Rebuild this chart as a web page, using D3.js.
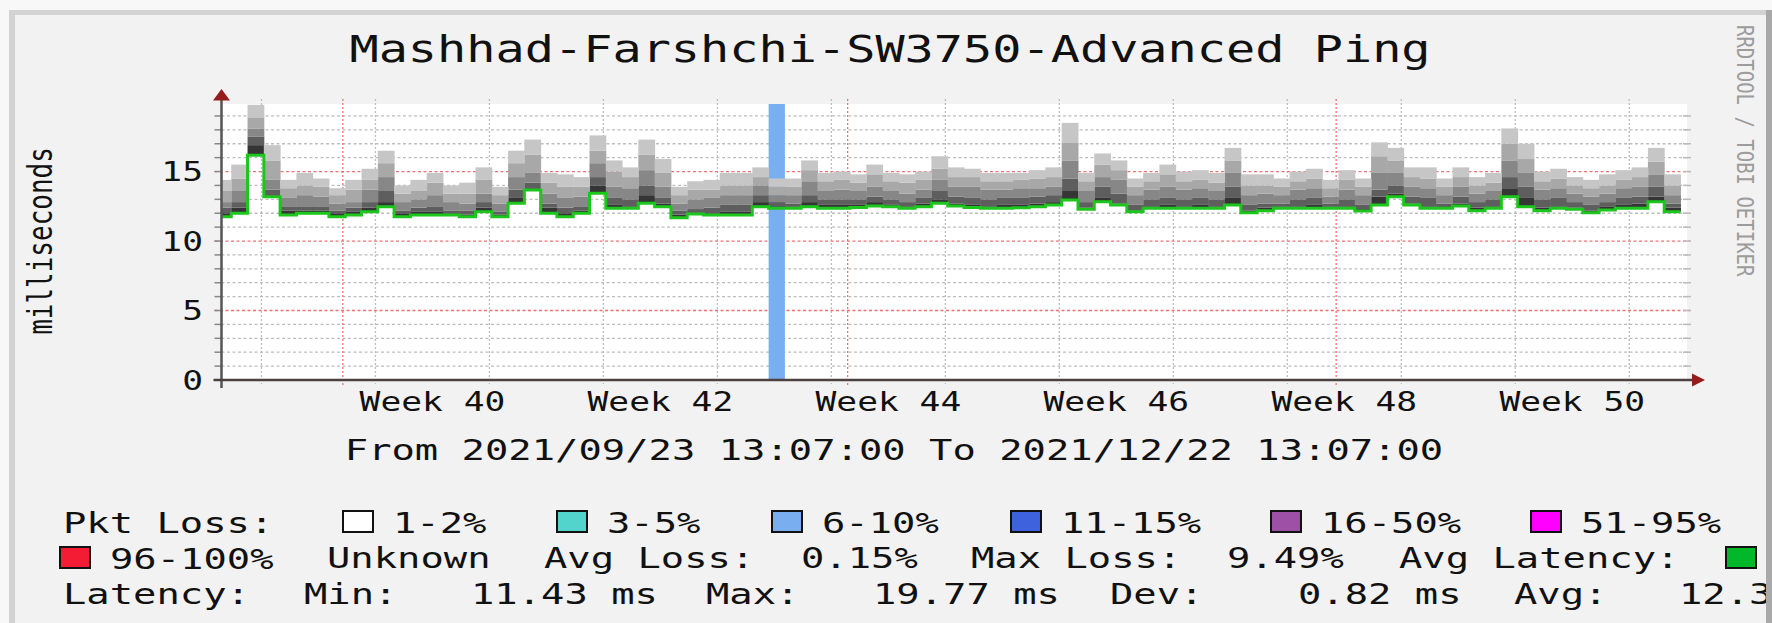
<!DOCTYPE html>
<html>
<head>
    <script src="https://cdnjs.cloudflare.com/ajax/libs/d3/7.8.5/d3.min.js"></script>
    <style>
        body, html {
            margin: 0;
            padding: 0;
            width: 100%;
            height: 100%;
            overflow: hidden;
            background: #f7f7f7;
        }
        svg {
            display: block;
        }
        text {
            font-family: "DejaVu Sans Mono", monospace;
            white-space: pre;
            fill: #111;
        }
    </style>
</head>
<body>
    <svg></svg>
    <script>
        // daily samples (ms), one per column; times are local wall clock kept as UTC
        const median = [
            11.75, 11.99, 16.18, 13.19, 11.87, 11.99, 11.99, 11.75, 11.87, 12.11,
            12.47, 11.75, 11.87, 11.87, 11.87, 11.75, 12.11, 11.75, 12.71, 13.67,
            11.99, 11.75, 11.99, 13.43, 12.35, 12.35, 12.71, 12.47, 11.68, 11.94,
            11.87, 11.87, 11.87, 12.47, 12.35, 12.35, 12.47, 12.35, 12.35, 12.42,
            12.52, 12.47, 12.35, 12.47, 12.71, 12.52, 12.42, 12.35, 12.35, 12.40,
            12.47, 12.59, 12.95, 12.28, 12.83, 12.59, 12.11, 12.35, 12.35, 12.35,
            12.35, 12.35, 12.59, 12.04, 12.18, 12.35, 12.35, 12.35, 12.35, 12.35,
            12.16, 12.59, 13.19, 12.59, 12.35, 12.35, 12.52, 12.18, 12.35, 13.19,
            12.47, 12.18, 12.35, 12.28, 12.04, 12.23, 12.35, 12.35, 12.83, 12.11
        ];
        const ping1 = [
            12.0, 12.4, 16.9, 13.3, 12.2, 12.2, 12.2, 12.0, 12.1, 12.4,
            12.8, 12.0, 12.1, 12.1, 12.0, 11.9, 12.4, 11.9, 13.1, 13.8,
            12.4, 12.0, 12.2, 14.0, 12.6, 12.5, 13.3, 12.7, 11.9, 12.0,
            12.0, 12.1, 12.1, 12.8, 12.5, 12.5, 12.8, 12.6, 12.6, 12.6,
            12.8, 12.6, 12.5, 12.7, 13.0, 12.7, 12.6, 12.5, 12.6, 12.6,
            12.7, 12.8, 13.6, 12.4, 13.1, 12.7, 12.2, 12.5, 12.6, 12.5,
            12.6, 12.5, 13.1, 12.2, 12.4, 12.5, 12.5, 12.6, 12.5, 12.5,
            12.3, 13.2, 13.4, 12.7, 12.5, 12.4, 12.7, 12.4, 12.5, 13.8,
            13.1, 12.4, 12.5, 12.4, 12.2, 12.5, 12.6, 12.7, 13.2, 12.4
        ];
        const ping2 = [
            12.4, 12.8, 17.5, 13.7, 12.5, 12.5, 12.5, 12.2, 12.4, 12.8,
            13.6, 12.2, 12.4, 12.5, 12.2, 12.2, 12.8, 12.1, 13.7, 14.2,
            12.7, 12.4, 12.5, 14.6, 13.1, 13.0, 14.0, 13.1, 12.2, 12.3,
            12.4, 12.6, 12.6, 13.3, 12.8, 12.7, 13.3, 13.0, 13.0, 13.0,
            13.2, 13.0, 12.8, 13.1, 13.6, 13.2, 13.1, 13.0, 13.1, 13.1,
            13.2, 13.3, 14.5, 12.8, 13.9, 13.4, 12.6, 13.0, 13.1, 13.0,
            13.1, 13.0, 13.9, 12.6, 12.7, 12.7, 13.0, 13.1, 12.7, 13.0,
            12.6, 13.7, 14.0, 13.2, 13.1, 12.7, 13.2, 12.8, 13.0, 14.6,
            13.9, 13.0, 13.1, 12.8, 12.6, 12.8, 13.1, 13.2, 13.9, 12.7
        ];
        const ping3 = [
            12.8, 13.6, 18.1, 14.4, 13.1, 13.3, 13.2, 12.7, 12.8, 13.7,
            14.6, 12.8, 13.0, 13.3, 12.8, 12.7, 13.4, 12.7, 14.6, 14.9,
            13.4, 13.1, 13.2, 15.6, 13.9, 13.8, 15.1, 13.9, 12.7, 13.0,
            13.1, 13.3, 13.3, 14.0, 13.3, 13.3, 14.3, 13.6, 13.7, 13.6,
            13.9, 13.6, 13.4, 13.7, 14.4, 13.9, 13.9, 13.7, 13.7, 13.8,
            13.8, 13.9, 15.8, 13.6, 14.6, 14.4, 13.3, 13.7, 13.9, 13.7,
            13.8, 13.6, 14.9, 13.3, 13.4, 13.3, 13.7, 13.8, 13.2, 13.7,
            13.3, 14.9, 14.9, 13.9, 13.8, 13.3, 13.9, 13.4, 13.6, 15.8,
            14.9, 13.7, 13.8, 13.4, 13.2, 13.4, 13.8, 13.9, 14.8, 13.3
        ];
        const ping4 = [
            13.6, 14.5, 18.9, 15.8, 13.8, 14.0, 13.9, 13.3, 13.7, 14.4,
            15.6, 13.4, 13.6, 14.2, 13.4, 13.4, 14.4, 13.3, 15.6, 16.2,
            14.2, 13.9, 13.9, 16.5, 15.0, 14.6, 16.2, 14.9, 13.3, 13.7,
            13.7, 14.0, 14.0, 14.6, 13.9, 13.9, 15.1, 14.3, 14.4, 14.2,
            14.8, 14.3, 14.2, 14.4, 15.2, 14.6, 14.6, 14.3, 14.3, 14.4,
            14.5, 14.6, 17.1, 14.3, 15.5, 15.1, 13.9, 14.3, 14.8, 14.3,
            14.4, 14.2, 15.8, 14.0, 14.0, 13.9, 14.3, 14.5, 13.8, 14.4,
            13.9, 16.1, 15.8, 14.6, 14.5, 13.9, 14.6, 14.0, 14.2, 17.0,
            15.9, 14.3, 14.5, 14.0, 13.8, 14.0, 14.4, 14.6, 15.7, 14.0
        ];
        const pingTop = [
            14.4, 15.5, 19.8, 16.9, 14.4, 14.9, 14.5, 13.8, 14.4, 15.2,
            16.5, 14.0, 14.4, 14.9, 14.0, 14.2, 15.3, 13.9, 16.5, 17.3,
            14.9, 14.8, 14.6, 17.6, 15.8, 15.3, 17.3, 15.9, 13.9, 14.3,
            14.4, 14.9, 14.9, 15.3, 14.5, 14.5, 15.8, 14.9, 15.0, 14.8,
            15.5, 14.9, 14.8, 15.0, 16.1, 15.3, 15.2, 14.9, 14.9, 14.9,
            15.1, 15.3, 18.5, 14.9, 16.3, 15.8, 14.5, 14.9, 15.5, 15.0,
            15.1, 14.9, 16.7, 14.8, 14.8, 14.5, 15.0, 15.2, 14.4, 15.1,
            14.5, 17.1, 16.7, 15.3, 15.3, 14.5, 15.3, 14.6, 14.9, 18.1,
            17.0, 15.0, 15.2, 14.6, 14.4, 14.8, 15.1, 15.3, 16.7, 14.8
        ];

        // packet loss legend
        const lossLabels = ["1-2%", "3-5%", "6-10%", "11-15%", "16-50%", "51-95%", "96-100%"];
        const lossColors = ["#ffffff", "#52d4cc", "#79aff0", "#3e62de", "#9e4fa6", "#ff00ff", "#f41c35"];
        // columns that had loss, and which loss band they fall in
        const lossCols = [34];
        const lossBand = [2];

        const statLabels = ["Min:", "Max:", "Dev:", "Avg:"];
        const statValues = ["11.43 ms", "19.77 ms", "0.82 ms", "12.3"];
        const avgLoss = "0.15%";
        const maxLoss = "9.49%";
        const yTicks = [0, 5, 10, 15];

        const width = 1772;
        const height = 623;
        const SX = 1.33; // the picture is stretched sideways
        const plot = { left: 221.5, right: 1687, top: 104, bottom: 380 };

        const svg = d3.select("svg")
            .attr("width", width)
            .attr("height", height);

        const startTime = new Date(Date.UTC(2021, 8, 23, 13, 7));
        const endTime = new Date(Date.UTC(2021, 11, 22, 13, 7));
        const colStart = k => new Date(Date.UTC(2021, 8, 23 + k, 3, 30));

        const x = d3.scaleUtc().domain([startTime, endTime]).range([plot.left, plot.right]);
        const y = d3.scaleLinear().domain([0, 19.86]).range([plot.bottom, plot.top]);

        function label(parent, px, py, str, size, anchor) {
            return parent.append("text")
                .attr("transform", `translate(${px},${py}) scale(${SX},1)`)
                .attr("font-size", size)
                .attr("text-anchor", anchor || "start")
                .text(str);
        }

        // frame
        svg.append("rect").attr("width", width).attr("height", height).attr("fill", "#f8f8f8");
        svg.append("rect").attr("x", 10).attr("y", 10).attr("width", width).attr("height", height)
            .attr("fill", "#f2f2f2");
        svg.append("rect").attr("x", 10).attr("y", 10).attr("width", width).attr("height", 5).attr("fill", "#d3d3d3");
        svg.append("rect").attr("x", 9).attr("y", 10).attr("width", 6).attr("height", height).attr("fill", "#d3d3d3");

        // plot background
        svg.append("rect")
            .attr("x", plot.left).attr("y", plot.top)
            .attr("width", plot.right - plot.left).attr("height", plot.bottom - plot.top)
            .attr("fill", "#fff");

        svg.append("clipPath").attr("id", "clip")
            .append("rect")
            .attr("x", plot.left).attr("y", plot.top)
            .attr("width", plot.right - plot.left).attr("height", plot.bottom - plot.top);

        // grid
        const grid = svg.append("g");
        const minorVals = d3.range(1, 20).filter(v => v % 5 !== 0);
        grid.selectAll(".hminor").data(minorVals).join("line")
            .attr("x1", plot.left).attr("x2", plot.right + 3)
            .attr("y1", d => y(d)).attr("y2", d => y(d))
            .attr("stroke", "#bdbdbd").attr("stroke-width", 1.3).attr("stroke-dasharray", "3,2.5");
        const weeks = d3.utcSunday.range(startTime, endTime);
        grid.selectAll(".vminor").data(weeks).join("line")
            .attr("x1", d => x(d)).attr("x2", d => x(d))
            .attr("y1", plot.top - 5).attr("y2", plot.bottom + 4)
            .attr("stroke", "#bdbdbd").attr("stroke-width", 1.3).attr("stroke-dasharray", "2,2");
        grid.selectAll(".hmajor").data(yTicks).join("line")
            .attr("x1", plot.left - 7).attr("x2", plot.right + 3)
            .attr("y1", d => y(d)).attr("y2", d => y(d))
            .attr("stroke", "#ee7272").attr("stroke-width", 1.3).attr("stroke-dasharray", "3,2.5");
        const months = d3.utcMonth.range(startTime, endTime);
        grid.selectAll(".vmajor").data(months).join("line")
            .attr("x1", d => x(d)).attr("x2", d => x(d))
            .attr("y1", plot.top - 5).attr("y2", plot.bottom + 6)
            .attr("stroke", "#ee7272").attr("stroke-width", 1.3).attr("stroke-dasharray", "2,2");

        // small ticks on both sides of the plot
        const tickVals = d3.range(0, 20);
        grid.selectAll(".tl").data(tickVals).join("line")
            .attr("x1", plot.left - 7).attr("x2", plot.left)
            .attr("y1", d => y(d)).attr("y2", d => y(d))
            .attr("stroke", "#888").attr("stroke-width", 1.5);
        grid.selectAll(".tr").data(tickVals).join("line")
            .attr("x1", plot.right - 4).attr("x2", plot.right + 4)
            .attr("y1", d => y(d)).attr("y2", d => y(d))
            .attr("stroke", "#bbb").attr("stroke-width", 1.5);

        const data = svg.append("g").attr("clip-path", "url(#clip)");

        // loss bars
        data.selectAll(".loss").data(lossCols).join("rect")
            .attr("x", d => x(colStart(d)))
            .attr("width", d => x(colStart(d + 1)) - x(colStart(d)))
            .attr("y", plot.top).attr("height", plot.bottom - plot.top)
            .attr("fill", (d, i) => lossColors[lossBand[i]]);

        // smoke
        const levels = [median, ping1, ping2, ping3, ping4, pingTop];
        const smokeColors = ["#353535", "#5e5e5e", "#878787", "#a8a8a8", "#c6c6c6"];
        const cols = d3.range(median.length);
        smokeColors.forEach((c, b) => {
            data.append("g").selectAll("rect").data(cols).join("rect")
                .attr("x", k => x(colStart(k)))
                .attr("width", k => x(colStart(k + 1)) - x(colStart(k)) + 0.5)
                .attr("y", k => y(levels[b + 1][k]))
                .attr("height", k => Math.max(0, y(levels[b][k]) - y(levels[b + 1][k])))
                .attr("fill", c);
        });

        // median line
        const pts = cols.map(k => [colStart(k), median[k]]);
        pts.push([colStart(median.length), median[median.length - 1]]);
        data.append("path")
            .datum(pts)
            .attr("fill", "none")
            .attr("stroke", "#1cc61c")
            .attr("stroke-width", 3)
            .attr("d", d3.line().curve(d3.curveStepAfter).x(d => x(d[0])).y(d => y(d[1])));

        // axes
        svg.append("line")
            .attr("x1", plot.left).attr("x2", plot.left)
            .attr("y1", plot.bottom + 8).attr("y2", plot.top - 6)
            .attr("stroke", "#555").attr("stroke-width", 2.5);
        svg.append("line")
            .attr("x1", plot.left - 8).attr("x2", plot.right + 6)
            .attr("y1", plot.bottom).attr("y2", plot.bottom)
            .attr("stroke", "#4d4040").attr("stroke-width", 2.5);
        svg.append("path")
            .attr("d", `M${plot.left},89 L${plot.left - 8.5},100.5 L${plot.left + 8.5},100.5 Z`)
            .attr("fill", "#961c1c");
        svg.append("path")
            .attr("d", `M1705,${plot.bottom} L1692,${plot.bottom - 6.5} L1692,${plot.bottom + 6.5} Z`)
            .attr("fill", "#961c1c");

        // y labels
        yTicks.forEach(v => label(svg, 203, y(v) + 9.5, String(v), 26, "end"));
        svg.append("text")
            .attr("transform", `translate(52,241) scale(${SX},1) rotate(-90)`)
            .attr("font-size", 26)
            .attr("text-anchor", "middle")
            .text("milliseconds");

        // x labels: every second week, centred on mid week
        const fmtWeek = d3.utcFormat("%V");
        const weekLabels = weeks.map(d => d3.utcHour.offset(d, 84))
            .filter(d => d < endTime && +fmtWeek(d) % 2 === 0);
        weekLabels.forEach(d => label(svg, x(d), 411, "Week " + fmtWeek(d), 26, "middle"));

        // title and period
        label(svg, 890, 62, "Mashhad-Farshchi-SW3750-Advanced Ping", 36.5, "middle");
        label(svg, 894, 460, "From 2021/09/23 13:07:00 To 2021/12/22 13:07:00", 29.2, "middle");

        // watermark
        svg.append("text")
            .attr("transform", "translate(1737,25) scale(1.2,1) rotate(90)")
            .attr("font-size", 19)
            .style("fill", "#9c9c9c")
            .text("RRDTOOL / TOBI OETIKER");

        // legend
        const lg = svg.append("g");
        const fs = 29.2;
        label(lg, 63, 533, "Pkt Loss:", fs);
        const boxX = [343, 557, 772, 1011, 1271, 1531, 60];
        const boxY = [511, 511, 511, 511, 511, 511, 547];
        lossLabels.forEach((t, i) => {
            lg.append("rect")
                .attr("x", boxX[i]).attr("y", boxY[i])
                .attr("width", 30).attr("height", 21)
                .attr("fill", lossColors[i])
                .attr("stroke", "#111").attr("stroke-width", 2);
            label(lg, boxX[i] + 50, boxY[i] + 22, t, fs);
        });
        label(lg, 327, 568, "Unknown", fs);
        label(lg, 544, 568, "Avg Loss:", fs);
        label(lg, 801, 568, avgLoss, fs);
        label(lg, 971, 568, "Max Loss:", fs);
        label(lg, 1227, 568, maxLoss, fs);
        label(lg, 1399, 568, "Avg Latency:", fs);
        lg.append("rect")
            .attr("x", 1726).attr("y", 547).attr("width", 30).attr("height", 21)
            .attr("fill", "#00b82a").attr("stroke", "#111").attr("stroke-width", 2);

        label(lg, 63, 604, "Latency:", fs);
        const statLabelX = [304, 706, 1110, 1514];
        const statValueX = [471, 873, 1298, 1679];
        statLabels.forEach((t, i) => {
            label(lg, statLabelX[i], 604, t, fs);
            label(lg, statValueX[i], 604, statValues[i], fs);
        });

        // right edge of the frame
        svg.append("rect").attr("x", 1766).attr("y", 10).attr("width", 6).attr("height", height).attr("fill", "#a9a9a9");
    </script>
</body>
</html>
